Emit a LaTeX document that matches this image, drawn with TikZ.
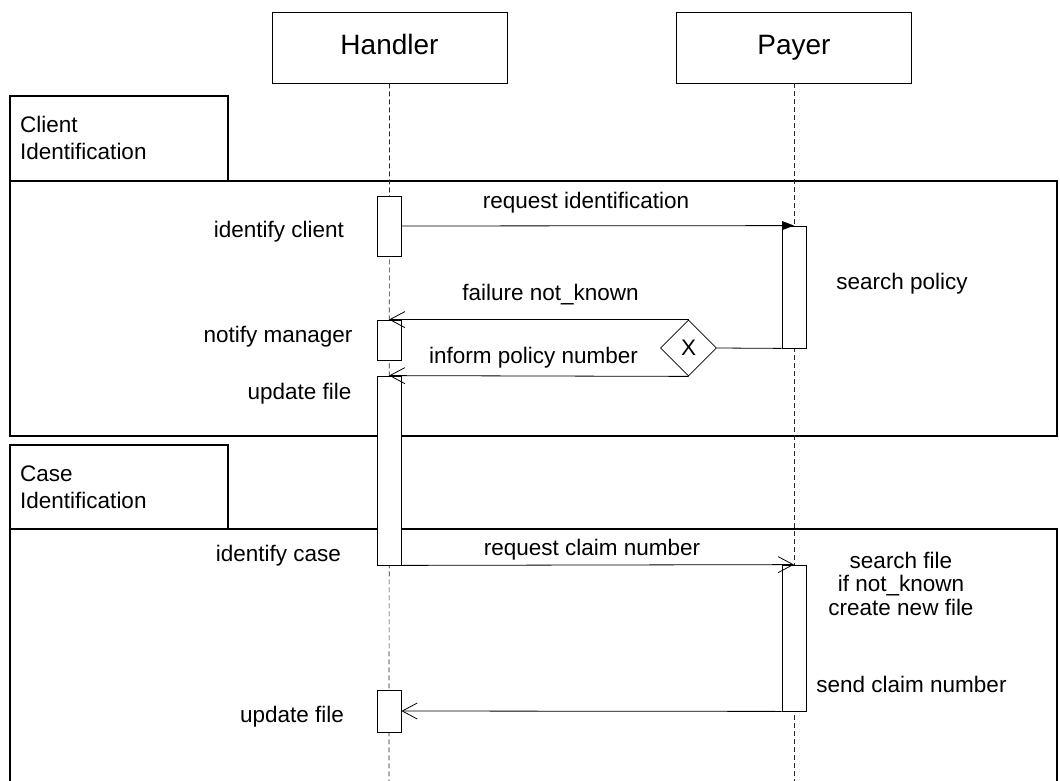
\documentclass[tikz,border=0pt]{standalone}
\usepackage{fontspec}
\setmainfont{Liberation Sans}
\usetikzlibrary{arrows.meta,shapes.geometric}
\tikzset{>=latex,
	head/.style={draw, line width=0.8pt, minimum width=235pt, minimum height=71pt, inner sep=0pt, text height=20pt, text depth=5pt, font=\fontsize{28}{30}\selectfont},
	act/.style={draw, fill=white, line width=0.8pt, minimum width=24pt, inner sep=0pt},
	lifeline/.style={dash pattern=on 5pt off 3pt, line width=0.7pt, black!85},
	msg/.style={line width=0.8pt, -{Triangle[length=12pt,width=9pt]}},
	reply/.style={line width=0.8pt, -{Straight Barb[length=15pt,width=16pt]}},
	lbl/.style={inner sep=0pt, anchor=base, font=\fontsize{22.5}{23.5}\selectfont},
	fragbox/.style={line width=1.2pt},
	frame/.style={line width=2pt}}

\begin{document}
\begin{tikzpicture}[x=1pt,y=-1pt]
		\useasboundingbox (0,0) rectangle (1060,781);
		% combined fragments
		\draw[frame] (10,181) rectangle (1057,436);
		\draw[fragbox] (10,96) rectangle (228,181);
		\node[lbl, anchor=north west, align=left, font=\fontsize{22.5}{27}\selectfont] (ciname) at (20,116) {Client\\Identification};
		\draw[frame] (10,781) -- (10,529) -- (1057,529) -- (1057,781);
		\draw[fragbox] (10,445) rectangle (228,529);
		\node[lbl, anchor=north west, align=left, font=\fontsize{22.5}{27}\selectfont] (caname) at (20,466) {Case\\Identification};
		% lifelines
		\node[head] (handler) at (389.5,47.5) {Handler};
		\node[head] (payer) at (794,47.5) {Payer};
		\coordinate (hend) at (389,781);
		\coordinate (pend) at (794,781);
		\draw[lifeline] (handler.south) -- (hend);
		\draw[lifeline] (payer.south) -- (pend);
		% activations
		\node[act, minimum height=60pt] (h1) at (389,226) {};
		\node[act, minimum height=40pt] (h2) at (389,340) {};
		\node[act, minimum height=189pt] (h3) at (389,470.5) {};
		\node[act, minimum height=42pt] (h4) at (389,711) {};
		\node[act, minimum height=122pt] (p1) at (794,287) {};
		\node[act, minimum height=146pt] (p2) at (794,638) {};
		\node[draw, diamond, line width=0.8pt, fill=white, minimum width=56pt, minimum height=56pt, inner sep=0pt, font=\fontsize{22.5}{23.5}\selectfont] (alt) at (688.5,348) {X};
		% messages
		\draw[msg] (h1.east) -- (p1.north);
		\draw[line width=0.8pt] (p1.south west) -- (alt.east);
		\draw[reply] (alt.north) -- (h2.north |- alt.north);
		\draw[reply] (alt.south) -- (h3.north);
		\draw[reply] (h3.south east) -- (p2.north);
		\draw[reply] (p2.south west) -- (h4.east);
		\node[lbl] (rqid) at (586,208) {request identification};
		\node[lbl] (fail) at (550.5,300) {failure not\_known};
		\node[lbl] (inform) at (533.5,363) {inform policy number};
		\node[lbl] (rqclaim) at (592,555) {request claim number};
		% actions
		\node[lbl] (idclient) at (279,237) {identify client};
		\node[lbl] (notify) at (278,342) {notify manager};
		\node[lbl] (upd1) at (299.5,399) {update file};
		\node[lbl] (idcase) at (278.5,561) {identify case};
		\node[lbl] (upd2) at (292,722) {update file};
		\node[lbl] (search) at (902,289) {search policy};
		\node[lbl, anchor=north, align=center] (sfile) at (901,551.5) {search file\\if not\_known\\create new file};
		\node[lbl] (send) at (911.5,692) {send claim number};
	\end{tikzpicture}
\end{document}
